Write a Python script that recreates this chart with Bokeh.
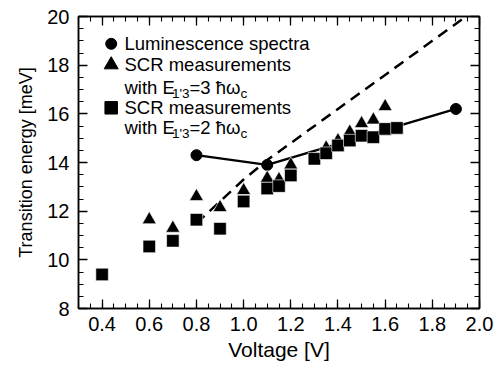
from bokeh.plotting import figure
from bokeh.models import LinearAxis, SingleIntervalTicker, PrintfTickFormatter, CustomJSTickFormatter
from bokeh.core.properties import value
from bokeh.embed import file_html
from bokeh.resources import INLINE

# ---- data ----
lum_x = [0.8, 1.1, 1.9]
lum_y = [14.3, 13.9, 16.2]

dash_x = [0.8, 1.0, 1.1, 1.4, 1.6, 1.8, 1.95]
dash_y = [11.5, 13.3, 14.1, 16.2, 17.6, 19.0, 20.05]

tri_x = [0.6, 0.7, 0.8, 0.9, 1.0, 1.1, 1.15, 1.2, 1.35, 1.4, 1.45, 1.45, 1.5, 1.55, 1.6]
tri_y = [11.65, 11.3, 12.6, 12.15, 12.85, 13.35, 13.3, 13.9, 14.6, 14.9, 15.05, 15.25, 15.6, 15.75, 16.3]

sq_x = [0.4, 0.6, 0.7, 0.8, 0.9, 1.0, 1.1, 1.15, 1.2, 1.3, 1.35, 1.4, 1.45, 1.5, 1.55, 1.6, 1.65]
sq_y = [9.4, 10.55, 10.78, 11.65, 11.28, 12.4, 12.93, 13.03, 13.47, 14.15, 14.38, 14.7, 14.9, 15.1, 15.04, 15.38, 15.42]

X_RANGE = (0.3, 2.0)
Y_RANGE = (8, 20)
x_label = "Voltage [V]"
y_label = "Transition energy [meV]"
legend_main = ["Luminescence spectra", "SCR measurements", "with E", "=3 ħω", "SCR measurements", "with E", "=2 ħω"]
legend_sub = ["1'3", "c", "1'3", "c"]

FONT = "Liberation Sans"

W, H = 500, 367
L, R, T, B = 78, 21, 16, 59

p = figure(width=W, height=H, x_range=X_RANGE, y_range=Y_RANGE,
           output_backend="svg", toolbar_location=None,
           min_border_left=L, min_border_right=R, min_border_top=T, min_border_bottom=B,
           background_fill_color="white", border_fill_color="white")
p.grid.visible = False
p.outline_line_color = "black"
p.outline_line_width = 1.5

fw = W - L - R
fh = H - T - B
def sx(px):
    return X_RANGE[0] + (px - L) / fw * (X_RANGE[1] - X_RANGE[0])
def sy(py):
    return Y_RANGE[1] - (py - T) / fh * (Y_RANGE[1] - Y_RANGE[0])

xt = SingleIntervalTicker(interval=0.2, num_minor_ticks=4)
yt = SingleIntervalTicker(interval=2, num_minor_ticks=4)

def style_axis(ax, labels=True):
    ax.axis_line_color = "black"
    ax.axis_line_width = 1.5
    ax.major_tick_line_color = "black"
    ax.minor_tick_line_color = "black"
    ax.major_tick_line_width = 1.3
    ax.minor_tick_line_width = 1.1
    ax.major_tick_in = 9
    ax.major_tick_out = 0
    ax.minor_tick_in = 5
    ax.minor_tick_out = 0
    ax.major_label_text_font = FONT
    ax.major_label_text_font_size = "20px"
    ax.major_label_text_color = "black"
    ax.axis_label_text_font = FONT
    ax.axis_label_text_font_size = "21px"
    ax.axis_label_text_font_style = "normal"
    ax.axis_label_text_color = "black"
    if not labels:
        ax.formatter = CustomJSTickFormatter(code="return ''")
        ax.major_label_standoff = 0

xa = p.xaxis[0]
xa.ticker = xt
xa.formatter = PrintfTickFormatter(format="%.1f")
xa.axis_label = x_label
style_axis(xa)
xa.major_label_standoff = 8
xa.axis_label_standoff = 4

ya = p.yaxis[0]
ya.ticker = yt
ya.axis_label = y_label
style_axis(ya)
ya.axis_label_text_font_size = "18px"
ya.major_label_standoff = 9
ya.axis_label_standoff = 8

ra = LinearAxis(ticker=SingleIntervalTicker(interval=2, num_minor_ticks=4))
style_axis(ra, labels=False)
p.add_layout(ra, "right")
ta = LinearAxis(ticker=SingleIntervalTicker(interval=0.2, num_minor_ticks=4))
style_axis(ta, labels=False)
p.add_layout(ta, "above")

# dashed line
p.line(dash_x, dash_y, line_color="black", line_width=2.5, line_dash="11 7")
# luminescence line + points
p.line(lum_x, lum_y, line_color="black", line_width=2.3)
p.scatter(lum_x, lum_y, marker="circle", size=11, fill_color="black", line_color="black")
# SCR points
p.scatter(tri_x, tri_y, marker="triangle", size=14, fill_color="black", line_color="white", line_width=0.6)
p.scatter(sq_x, sq_y, marker="square", size=12.5, fill_color="black", line_color="white", line_width=0.6)

# ---- legend (manual) ----
mx = sx(110.7)
p.scatter([mx], [sy(43.3)], marker="circle", size=11, fill_color="black", line_color="black")
p.scatter([mx], [sy(64.3)], marker="triangle", size=14, fill_color="black", line_color="black")
p.scatter([mx], [sy(107.3)], marker="square", size=12.5, fill_color="black", line_color="black")

main_px = [(124, 43.3), (124, 64.3), (124, 86.5), (189, 86.5), (124, 107.3), (124, 126.5), (189, 126.5)]
p.text([sx(a) for a, b in main_px], [sy(b) for a, b in main_px], text=legend_main,
       text_font=value(FONT), text_font_size="18.5px", text_baseline="middle",
       text_align="left", text_color="black")
sub_px = [(171.5, 93), (240, 93), (171.5, 133), (240, 133)]
p.text([sx(a) for a, b in sub_px], [sy(b) for a, b in sub_px], text=legend_sub,
       text_font=value(FONT), text_font_size="13.5px", text_baseline="middle",
       text_align="left", text_color="black")

open("out.html", "w").write(file_html(p, INLINE))
